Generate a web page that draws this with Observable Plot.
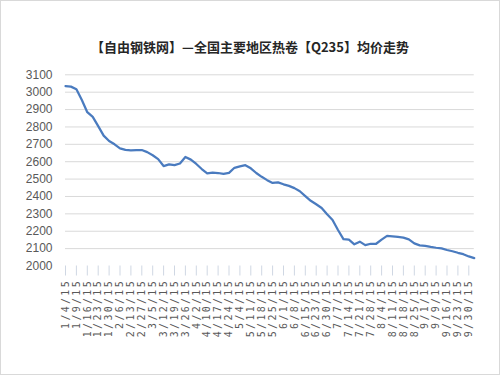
<!DOCTYPE html>
<html>
<head>
<meta charset="utf-8">
<script src="https://cdn.jsdelivr.net/npm/d3@7"></script>
<script src="https://cdn.jsdelivr.net/npm/@observablehq/plot@0.6"></script>
<style>
  html, body { margin: 0; padding: 0; background: #fff; }
  #frame { width: 500px; height: 375px; box-sizing: border-box; border: 1px solid #d9d9d9; background: #fff; overflow: hidden; }
  #title { height: 23px; padding-top: 36px; line-height: 18px; text-align: center; font: bold 13px "Noto Sans CJK SC", sans-serif; color: #262626; }
  [aria-label="x-axis tick label"] text { letter-spacing: 2.3px; }
</style>
</head>
<body>
<div id="frame">
  <div id="title">【自由钢铁网】—全国主要地区热卷【Q235】均价走势</div>
  <div id="chart"></div>
</div>
<script>
const titleText = "【自由钢铁网】—全国主要地区热卷【Q235】均价走势";
const dateLabels = [
  "1/4/15","1/9/15","1/16/15","1/23/15","1/30/15","2/6/15","2/13/15","2/27/15",
  "3/5/15","3/12/15","3/19/15","3/26/15","4/2/15","4/10/15","4/17/15","4/24/15",
  "5/4/15","5/11/15","5/18/15","5/25/15","6/1/15","6/8/15","6/15/15","6/23/15",
  "6/30/15","7/7/15","7/14/15","7/21/15","7/28/15","8/4/15","8/11/15","8/18/15",
  "8/25/15","9/1/15","9/9/15","9/16/15","9/23/15","9/30/15"
];
// average price, sampled twice per labelled week
const prices = [
  3035,3032,3017,2955,2885,2858,2805,2750,2719,2700,
  2677,2668,2665,2666,2667,2655,2637,2615,2575,2585,
  2580,2590,2627,2612,2587,2558,2533,2537,2535,2530,
  2536,2565,2573,2580,2562,2535,2513,2494,2478,2481,
  2470,2461,2448,2430,2402,2375,2355,2334,2298,2265,
  2207,2155,2152,2125,2140,2120,2128,2128,2152,2173,
  2171,2167,2163,2153,2130,2119,2116,2110,2105,2101,
  2092,2085,2076,2068,2055,2045
];
const yTicks = [2000,2100,2200,2300,2400,2500,2600,2700,2800,2900,3000,3100];

const data = prices.map((v, i) => ({i, v}));
const xTicks = dateLabels.map((d, k) => k * 2);

const chart = Plot.plot({
  width: 498,
  height: 314,
  marginLeft: 64,
  marginRight: 25.25,
  marginTop: 14.3,
  marginBottom: 108.5,
  style: {background: "#fff", fontFamily: "Liberation Sans, sans-serif", overflow: "visible"},
  x: {domain: [0, prices.length - 1]},
  y: {domain: [yTicks[0], yTicks[yTicks.length - 1]]},
  marks: [
    Plot.gridY(yTicks.slice(1), {stroke: "#d9d9d9", strokeOpacity: 1, strokeWidth: 1}),
    Plot.axisY(yTicks, {tickSize: 0, tickPadding: 13, fontSize: 12, fill: "#595959", tickFormat: d => String(d), label: null}),
    Plot.axisX(xTicks, {
      tickSize: 10, stroke: "#cfd7e3", strokeOpacity: 1, tickRotate: -90, tickPadding: 3,
      tickFormat: d => dateLabels[d / 2], fontSize: 10, fill: "#595959",
      fontFamily: "DejaVu Sans Mono, monospace", label: null
    }),
    Plot.lineY(data, {x: "i", y: "v", stroke: "#4a7bbf", strokeWidth: 2.25, strokeLinejoin: "round"})
  ]
});
document.getElementById("chart").appendChild(chart);
</script>
</body>
</html>
